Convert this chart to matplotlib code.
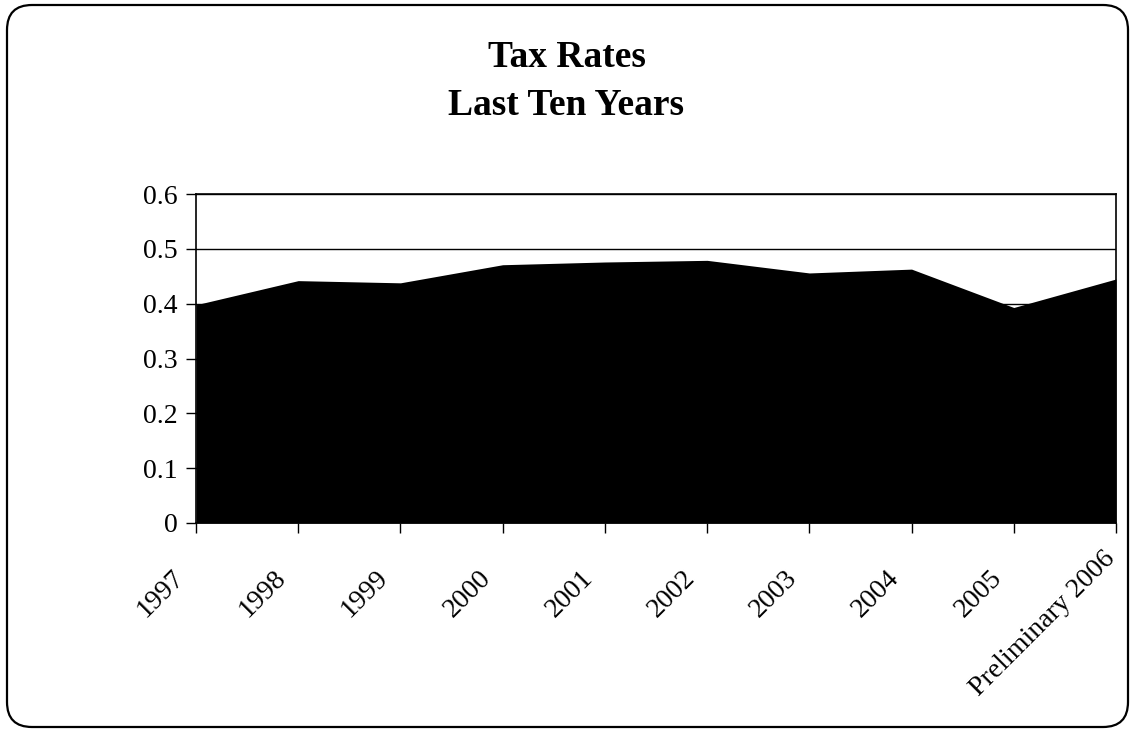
import matplotlib
matplotlib.use("Agg")
import matplotlib.pyplot as plt
from matplotlib.patches import FancyBboxPatch
from matplotlib.transforms import ScaledTranslation

years = ["1997", "1998", "1999", "2000", "2001", "2002", "2003", "2004", "2005",
         "Preliminary 2006"]
rates = [0.398, 0.442, 0.438, 0.471, 0.476, 0.479, 0.456, 0.463, 0.393, 0.445]
yticks = [0, 0.1, 0.2, 0.3, 0.4, 0.5, 0.6]
ytick_labels = ["0", "0.1", "0.2", "0.3", "0.4", "0.5", "0.6"]

W, H, DPI = 1133, 733, 100
plt.rcParams["font.family"] = ["Liberation Serif", "DejaVu Serif"]

fig = plt.figure(figsize=(W / DPI, H / DPI), dpi=DPI)
fig.patch.set_facecolor("white")

# rounded outer frame (inches)
r = 0.25
frame = FancyBboxPatch((0.07 + r, 0.06 + r), 11.21 - 2 * r, 7.22 - 2 * r,
                       boxstyle=f"round,pad={r}", transform=fig.dpi_scale_trans,
                       facecolor="none", edgecolor="black", linewidth=1.6)
fig.patches.append(frame)

left, right, top, bottom = 196, 1116, 194, 523
ax = fig.add_axes([left / W, (H - bottom) / H, (right - left) / W, (bottom - top) / H])

x = list(range(len(years)))
ax.fill_between(x, rates, 0, color="black", linewidth=0, zorder=2)

ax.set_xlim(0, len(years) - 1)
ax.set_ylim(0, 0.6)
ax.set_yticks(yticks)
ax.set_yticklabels(ytick_labels, fontsize=20)
ax.yaxis.grid(True, color="black", linewidth=1.0, zorder=1)
ax.set_axisbelow(True)

ax.set_xticks(x)
ax.set_xticklabels(years, fontsize=20, rotation=45, ha="right", va="center",
                   rotation_mode="anchor")
ax.tick_params(axis="x", direction="out", length=7, width=1, pad=30, colors="black")
ax.tick_params(axis="y", direction="out", length=7, width=1, pad=6, colors="black")

# shift rotated year labels so their ends sit just left of each tick
labels = ax.get_xticklabels()
for i, lab in enumerate(labels):
    if i == len(labels) - 1:
        off = ScaledTranslation(-5 / DPI, 19 / DPI, fig.dpi_scale_trans)
    else:
        off = ScaledTranslation(-16 / DPI, 0, fig.dpi_scale_trans)
    lab.set_transform(lab.get_transform() + off)

for s in ax.spines.values():
    s.set_color("black")
    s.set_linewidth(1.2)
    s.set_zorder(3)

fig.text(0.5, 1 - 67 / H, "Tax Rates", ha="center", va="baseline",
         fontsize=27, fontweight="bold")
fig.text(0.5, 1 - 115 / H, "Last Ten Years", ha="center", va="baseline",
         fontsize=27, fontweight="bold")

fig.savefig("out.png", dpi=DPI, facecolor="white")
